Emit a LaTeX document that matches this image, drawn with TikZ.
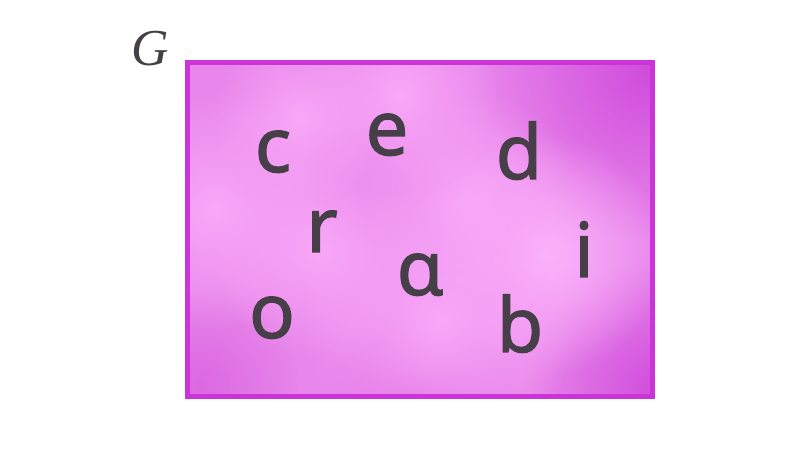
\documentclass[tikz,border=0pt]{standalone}
\usepackage{fontspec}
\usetikzlibrary{fadings}
\newfontfamily\letterfont{Noto Sans}[FakeBold=1.6]
\newfontfamily\labelfont{Liberation Serif}
\definecolor{basefill}{HTML}{E886EB}
\definecolor{darkfill}{HTML}{D04CDC}
\definecolor{midfill}{HTML}{DC68E2}
\definecolor{lightfill}{HTML}{F9A8F8}
\definecolor{palefill}{HTML}{FDB6FC}
\definecolor{framecol}{HTML}{CC33D9}
\definecolor{inkcol}{HTML}{463F47}
\tikzfading[name=softblob, inner color=transparent!0, outer color=transparent!100]
\tikzset{
  letter/.style={anchor=base, inner sep=0pt, text=inkcol,
    font=\letterfont\bfseries\fontsize{76}{80}\selectfont},
  blob/.style={path fading=softblob},
}
\begin{document}
\begin{tikzpicture}[x=1bp,y=-1bp]
\useasboundingbox (0,0) rectangle (800,460);
\begin{scope}
\clip (187.5,62.5) rectangle (652.5,396.5);
\fill[basefill] (187.5,62.5) rectangle (652.5,396.5);
% darker corners
\fill[darkfill,blob] (650,70) circle (170);
\fill[darkfill,blob] (660,390) circle (130);
\fill[midfill,blob] (200,385) circle (100);
\fill[midfill,blob] (420,405) circle (100);
% lighter patches
\fill[lightfill,blob] (215,210) circle (120);
\fill[palefill,blob] (545,255) circle (120);
\fill[lightfill,blob] (440,320) circle (140);
\fill[lightfill,blob] (400,95) circle (100);
\fill[lightfill,blob] (320,250) circle (110);
\fill[lightfill,blob] (470,200) circle (110);
\fill[lightfill,blob] (300,120) circle (90);
\end{scope}
\draw[framecol, line width=5bp] (187.5,62.5) rectangle (652.5,396.5);
\node[anchor=base, inner sep=0pt, text=inkcol,
  font=\labelfont\itshape\fontsize{52}{56}\selectfont] (G) at (150,66) {G};
\node[letter] (c) at (273,172) {c};
\node[letter] (e) at (387,155) {e};
\node[letter] (d) at (519,179) {d};
\node[letter] (r) at (322,252) {r};
\node[letter] (i) at (584,277) {i};
\node[letter] (a) at (420,295) {ɑ};
\node[letter] (o) at (272,338) {o};
\node[letter] (b) at (520,352) {b};
\end{tikzpicture}
\end{document}
